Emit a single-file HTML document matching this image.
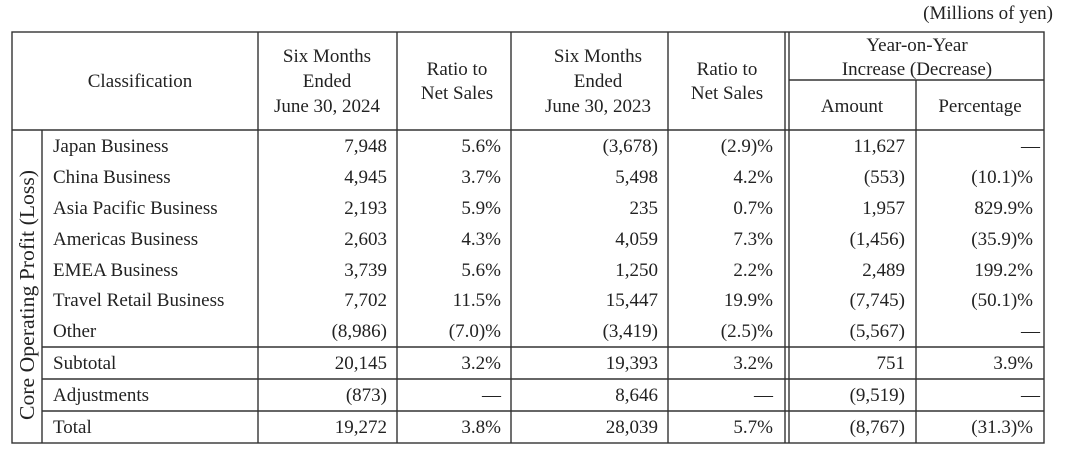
<!DOCTYPE html>
<html><head><meta charset="utf-8"><style>
html,body{margin:0;padding:0;background:#fff;}
svg{display:block;}
text{font-family:"Liberation Serif",serif;font-size:19px;fill:#222;}
</style></head><body>
<svg width="1072" height="460" viewBox="0 0 1072 460" xmlns="http://www.w3.org/2000/svg">
<g stroke="#333" stroke-width="1.4" fill="none">
<rect x="12" y="32" width="1032" height="411"/>
<line x1="12" y1="130" x2="1044" y2="130"/>
<line x1="42" y1="130" x2="42" y2="443"/>
<line x1="258" y1="32" x2="258" y2="443"/>
<line x1="397" y1="32" x2="397" y2="443"/>
<line x1="511" y1="32" x2="511" y2="443"/>
<line x1="668" y1="32" x2="668" y2="443"/>
<line x1="785" y1="32" x2="785" y2="443"/>
<line x1="789" y1="32" x2="789" y2="443"/>
<line x1="916" y1="80" x2="916" y2="443"/>
<line x1="789" y1="80" x2="1044" y2="80"/>
<line x1="42" y1="347" x2="1044" y2="347"/>
<line x1="42" y1="379" x2="1044" y2="379"/>
<line x1="42" y1="411" x2="1044" y2="411"/>
</g>
<text x="1053" y="19" text-anchor="end">(Millions of yen)</text>
<g text-anchor="middle">
<text x="140" y="87">Classification</text>
<text x="327" y="62">Six Months</text>
<text x="327" y="87">Ended</text>
<text x="327" y="112">June 30, 2024</text>
<text x="457" y="75">Ratio to</text>
<text x="457" y="99">Net Sales</text>
<text x="598" y="62">Six Months</text>
<text x="598" y="87">Ended</text>
<text x="598" y="112">June 30, 2023</text>
<text x="727" y="75">Ratio to</text>
<text x="727" y="99">Net Sales</text>
<text x="917" y="51">Year-on-Year</text>
<text x="917" y="75">Increase (Decrease)</text>
<text x="852" y="112">Amount</text>
<text x="980" y="112">Percentage</text>
</g>
<text transform="translate(34,295) rotate(-90)" text-anchor="middle" style="font-size:21px" textLength="250" lengthAdjust="spacingAndGlyphs">Core Operating Profit (Loss)</text>
<g>
<text x="53" y="152">Japan Business</text>
<text x="53" y="183">China Business</text>
<text x="53" y="214">Asia Pacific Business</text>
<text x="53" y="245">Americas Business</text>
<text x="53" y="276">EMEA Business</text>
<text x="53" y="306">Travel Retail Business</text>
<text x="53" y="337">Other</text>
<text x="53" y="369">Subtotal</text>
<text x="53" y="401">Adjustments</text>
<text x="53" y="433">Total</text>
</g>
<g text-anchor="end">
<text x="387" y="152">7,948</text><text x="501" y="152">5.6%</text><text x="658" y="152">(3,678)</text><text x="773" y="152">(2.9)%</text><text x="905" y="152">11,627</text><text x="1040" y="152">—</text>
<text x="387" y="183">4,945</text><text x="501" y="183">3.7%</text><text x="658" y="183">5,498</text><text x="773" y="183">4.2%</text><text x="905" y="183">(553)</text><text x="1033" y="183">(10.1)%</text>
<text x="387" y="214">2,193</text><text x="501" y="214">5.9%</text><text x="658" y="214">235</text><text x="773" y="214">0.7%</text><text x="905" y="214">1,957</text><text x="1033" y="214">829.9%</text>
<text x="387" y="245">2,603</text><text x="501" y="245">4.3%</text><text x="658" y="245">4,059</text><text x="773" y="245">7.3%</text><text x="905" y="245">(1,456)</text><text x="1033" y="245">(35.9)%</text>
<text x="387" y="276">3,739</text><text x="501" y="276">5.6%</text><text x="658" y="276">1,250</text><text x="773" y="276">2.2%</text><text x="905" y="276">2,489</text><text x="1033" y="276">199.2%</text>
<text x="387" y="306">7,702</text><text x="501" y="306">11.5%</text><text x="658" y="306">15,447</text><text x="773" y="306">19.9%</text><text x="905" y="306">(7,745)</text><text x="1033" y="306">(50.1)%</text>
<text x="387" y="337">(8,986)</text><text x="501" y="337">(7.0)%</text><text x="658" y="337">(3,419)</text><text x="773" y="337">(2.5)%</text><text x="905" y="337">(5,567)</text><text x="1040" y="337">—</text>
<text x="387" y="369">20,145</text><text x="501" y="369">3.2%</text><text x="658" y="369">19,393</text><text x="773" y="369">3.2%</text><text x="905" y="369">751</text><text x="1033" y="369">3.9%</text>
<text x="387" y="401">(873)</text><text x="501" y="401">—</text><text x="658" y="401">8,646</text><text x="773" y="401">—</text><text x="905" y="401">(9,519)</text><text x="1040" y="401">—</text>
<text x="387" y="433">19,272</text><text x="501" y="433">3.8%</text><text x="658" y="433">28,039</text><text x="773" y="433">5.7%</text><text x="905" y="433">(8,767)</text><text x="1033" y="433">(31.3)%</text>
</g>
</svg>
</body></html>
